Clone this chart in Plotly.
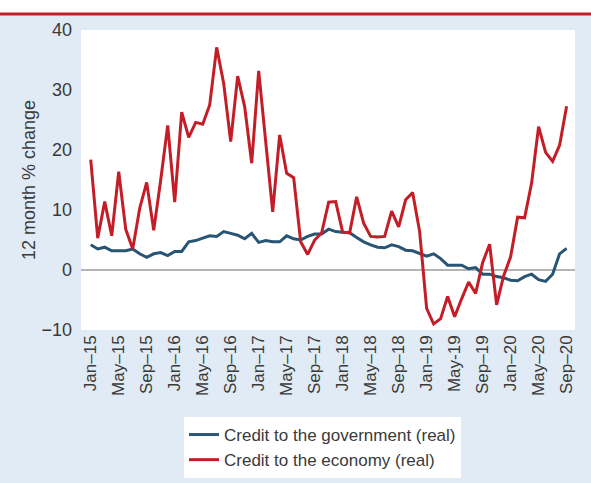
import plotly.graph_objects as go

# Monthly categories Jan-15 .. Sep-20
months = [
    "Jan-15", "Feb-15", "Mar-15", "Apr-15", "May-15", "Jun-15", "Jul-15", "Aug-15", "Sep-15", "Oct-15", "Nov-15", "Dec-15",
    "Jan-16", "Feb-16", "Mar-16", "Apr-16", "May-16", "Jun-16", "Jul-16", "Aug-16", "Sep-16", "Oct-16", "Nov-16", "Dec-16",
    "Jan-17", "Feb-17", "Mar-17", "Apr-17", "May-17", "Jun-17", "Jul-17", "Aug-17", "Sep-17", "Oct-17", "Nov-17", "Dec-17",
    "Jan-18", "Feb-18", "Mar-18", "Apr-18", "May-18", "Jun-18", "Jul-18", "Aug-18", "Sep-18", "Oct-18", "Nov-18", "Dec-18",
    "Jan-19", "Feb-19", "Mar-19", "Apr-19", "May-19", "Jun-19", "Jul-19", "Aug-19", "Sep-19", "Oct-19", "Nov-19", "Dec-19",
    "Jan-20", "Feb-20", "Mar-20", "Apr-20", "May-20", "Jun-20", "Jul-20", "Aug-20", "Sep-20",
]

credit_government = [
    4.2, 3.5, 3.8, 3.2, 3.2, 3.2, 3.5, 2.7, 2.1, 2.7, 2.9, 2.4,
    3.1, 3.1, 4.7, 4.9, 5.3, 5.7, 5.6, 6.4, 6.1, 5.8, 5.2, 6.1,
    4.6, 4.9, 4.7, 4.7, 5.7, 5.2, 5.0, 5.6, 6.0, 6.0, 6.8, 6.4,
    6.3, 6.2, 5.4, 4.7, 4.2, 3.8, 3.7, 4.2, 3.9, 3.3, 3.2, 2.8,
    2.3, 2.7, 1.9, 0.8, 0.8, 0.8, 0.2, 0.4, -0.7, -0.7, -1.1, -1.3,
    -1.7, -1.8, -1.1, -0.7, -1.6, -1.9, -0.7, 2.7, 3.6,
]

credit_economy = [
    18.4, 5.3, 11.4, 5.7, 16.4, 6.8, 3.5, 10.3, 14.6, 6.6, 15.0, 24.1,
    11.3, 26.3, 22.1, 24.6, 24.3, 27.5, 37.1, 31.1, 21.4, 32.3, 27.2, 17.8,
    33.2, 21.5, 9.7, 22.5, 16.1, 15.4, 4.7, 2.6, 5.0, 6.2, 11.3, 11.4,
    6.3, 6.2, 12.2, 7.8, 5.6, 5.5, 5.6, 9.8, 7.2, 11.7, 12.9, 6.4,
    -6.4, -9.0, -8.1, -4.4, -7.8, -4.8, -2.0, -3.9, 1.2, 4.3, -5.8, -1.0,
    2.2, 8.8, 8.7, 14.5, 23.9, 19.6, 18.1, 20.8, 27.3,
]

tick_months = months[::4]
tick_labels = [
    "Jan–15", "May–15", "Sep–15", "Jan–16", "May–16", "Sep–16",
    "Jan–17", "May–17", "Sep–17", "Jan–18", "May–18", "Sep–18",
    "Jan–19", "May-19", "Sep–19", "Jan–20", "May–20", "Sep–20",
]

y_ticks = [-10, 0, 10, 20, 30, 40]

FONT = "Liberation Sans Narrow, Arial Narrow, Liberation Sans, sans-serif"
TXT = "#3a3a3a"
BG = "#e0ebf5"
BLUE = "#285573"
RED = "#c31e28"

fig = go.Figure()
fig.add_trace(go.Scatter(x=months, y=credit_government, mode="lines",
                         name="Credit to the government (real)",
                         line=dict(color=BLUE, width=3)))
fig.add_trace(go.Scatter(x=months, y=credit_economy, mode="lines",
                         name="Credit to the economy (real)",
                         line=dict(color=RED, width=3)))

W, H = 591, 483
L, R, T, B = 81, 16, 30, 153
pw, ph = W - L - R, H - T - B

def px_x(p):
    return (p - L) / pw

def px_y(p):
    return (H - B - p) / ph

fig.update_layout(
    width=W, height=H,
    margin=dict(l=L, r=R, t=T, b=B, autoexpand=False),
    paper_bgcolor=BG,
    plot_bgcolor="white",
    font=dict(family=FONT, size=18, color=TXT),
    showlegend=True,
    legend=dict(
        x=px_x(184), y=px_y(417), xanchor="left", yanchor="top",
        bgcolor="white", borderwidth=0,
        font=dict(family=FONT, size=17, color=TXT),
        itemwidth=30, tracegroupgap=0,
    ),
    xaxis=dict(
        type="category",
        categoryorder="array", categoryarray=months,
        range=[-1.39, len(months) - 1 + 1.2],
        tickvals=tick_months, ticktext=tick_labels,
        tickangle=-90,
        showgrid=False, zeroline=False, showline=False,
        ticks="", ticklabelstandoff=1,
        tickfont=dict(family=FONT, size=17, color=TXT),
    ),
    yaxis=dict(
        range=[-10, 40],
        tickvals=y_ticks,
        showgrid=False, showline=False, ticks="",
        zeroline=True, zerolinecolor="#b4b4b4", zerolinewidth=2,
        ticklabelstandoff=8,
        tickfont=dict(family=FONT, size=18, color=TXT),
        title=dict(text="12 month % change", standoff=1,
                   font=dict(family=FONT, size=18, color=TXT)),
    ),
    shapes=[
        dict(type="rect", xref="paper", yref="paper",
             x0=px_x(-5), x1=px_x(W + 5), y0=px_y(13), y1=px_y(-5),
             fillcolor="white", line=dict(width=0), layer="below"),
        dict(type="line", xref="paper", yref="paper",
             x0=px_x(-5), x1=px_x(W + 5), y0=px_y(14), y1=px_y(14),
             line=dict(color=RED, width=3)),
    ],
)

fig.write_html("out.html", config={"displayModeBar": False},
               post_script="document.body.style.margin='0';")
